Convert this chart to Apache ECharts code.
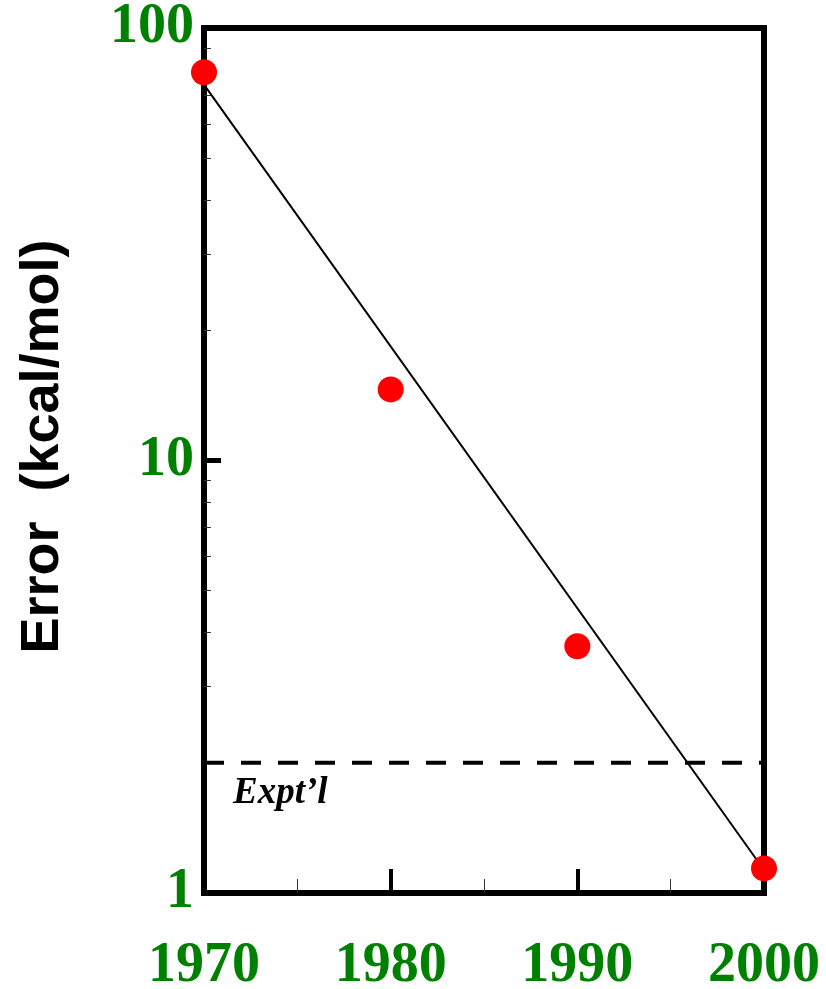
<!DOCTYPE html>
<html style="height: 100%">
<head>
<meta charset="utf-8">
<script src="https://cdn.jsdelivr.net/npm/echarts@6/dist/echarts.min.js"></script>
</head>
<body style="height: 100%; margin: 0; width: 100%; background: #fff;">
<div id="container" style="height: 989px; width: 826px;"></div>
<script type="text/javascript">
// measured points (year, error in kcal/mol)
var years = [1970, 1980, 1990, 2000];
var errors = [79, 14.6, 3.72, 1.14];
// fitted trend line end points
var trendYears = [1970, 2000];
var trendErrors = [74, 1.13];
// experimental accuracy level
var exptYears = [1970, 2000];
var exptLevel = [2, 2];
var xTicks = [1970, 1980, 1990, 2000];
var yMajor = [1, 10, 100];
var yMinor = [2, 3, 4, 5, 6, 7, 8, 9, 20, 30, 40, 50, 60, 70, 80, 90];

function pairs(xs, ys) {
    return xs.map(function (x, i) { return [x, ys[i]]; });
}

var dom = document.getElementById("container");
var myChart = echarts.init(dom);
var green = '#008000';
var tickFont = {
    color: green,
    fontFamily: 'Liberation Serif',
    fontWeight: 'bold',
    fontSize: 56
};

var option = {
    animation: false,
    backgroundColor: '#fff',
    grid: {
        left: 204, right: 62, top: 28, bottom: 96,
        outerBoundsMode: 'none',
        containLabel: false,
        show: true,
        borderColor: '#000',
        borderWidth: 6,
        backgroundColor: 'transparent'
    },
    xAxis: [{
        type: 'value',
        min: 1970, max: 2000, interval: 10,
        axisLine: {show: false},
        splitLine: {show: false},
        axisTick: {
            inside: true, length: 24,
            customValues: [1980, 1990],
            lineStyle: {color: '#000', width: 4}
        },
        minorTick: {
            show: true, splitNumber: 2, length: 14,
            lineStyle: {color: '#333', width: 1}
        },
        axisLabel: Object.assign({
            margin: 46,
            customValues: xTicks,
            formatter: function (v) { return String(v); }
        }, tickFont)
    }],
    yAxis: [{
        type: 'log',
        min: 1, max: 100, logBase: 10,
        name: 'Error  (kcal/mol)',
        nameLocation: 'middle',
        nameGap: 134,
        nameTextStyle: {
            color: '#000',
            fontFamily: 'Liberation Sans',
            fontWeight: 'bold',
            fontSize: 54,
            padding: [0, 0, 0, 28]
        },
        axisLine: {show: false},
        splitLine: {show: false},
        axisTick: {
            inside: true, length: 17,
            customValues: [10],
            lineStyle: {color: '#000', width: 5}
        },
        axisLabel: Object.assign({
            margin: 10,
            padding: [12, 0, 0, 0],
            customValues: yMajor,
            formatter: function (v) { return String(Math.round(v)); }
        }, tickFont)
    }, {
        type: 'log',
        min: 1, max: 100, logBase: 10,
        position: 'left',
        axisLine: {show: false},
        splitLine: {show: false},
        axisLabel: {show: false},
        axisTick: {
            inside: true, length: 7,
            customValues: yMinor,
            lineStyle: {color: '#333', width: 1}
        }
    }],
    series: [{
        type: 'line',
        data: pairs(exptYears, exptLevel),
        showSymbol: false,
        symbol: 'none',
        lineStyle: {color: '#000', width: 4, type: [20, 17]},
        z: 2
    }, {
        type: 'line',
        data: pairs(trendYears, trendErrors),
        showSymbol: false,
        symbol: 'none',
        lineStyle: {color: '#000', width: 2},
        z: 3
    }, {
        type: 'scatter',
        data: pairs(years, errors),
        symbol: 'circle',
        symbolSize: 26,
        itemStyle: {color: '#ff0000', opacity: 1},
        z: 5
    }]
};

myChart.setOption(option, true);

// "Expt'l" note sits just under the dashed line
var p = myChart.convertToPixel({xAxisIndex: 0, yAxisIndex: 0}, [exptYears[0], exptLevel[0]]);
myChart.setOption({
    graphic: [{
        type: 'text',
        left: p[0] + 29,
        top: p[1] + 12,
        style: {
            text: 'Expt\u2019l',
            fill: '#000',
            font: 'italic bold 37px "Liberation Serif"'
        }
    }]
});
</script>
</body>
</html>
